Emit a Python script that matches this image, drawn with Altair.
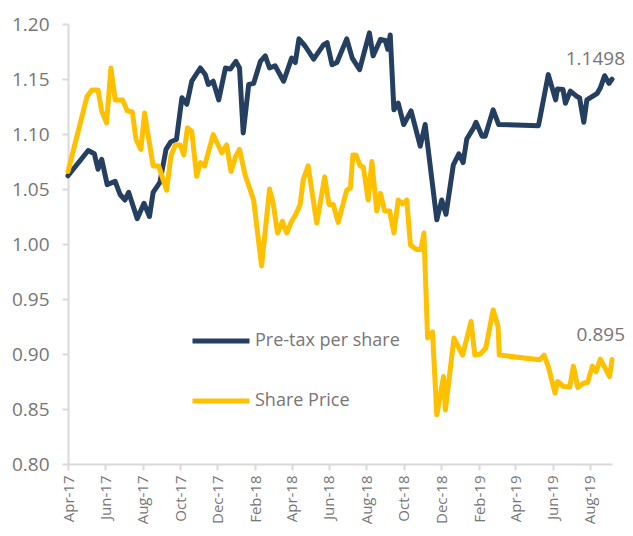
import altair as alt
import pandas as pd

# ---- data ----
pretax_dates = [
    "2017-04-01", "2017-05-04", "2017-05-14", "2017-05-20", "2017-05-26", "2017-06-04",
    "2017-06-17", "2017-06-25", "2017-07-03", "2017-07-09", "2017-07-23", "2017-08-03",
    "2017-08-12", "2017-08-18", "2017-08-29", "2017-09-08", "2017-09-16", "2017-09-25",
    "2017-10-04", "2017-10-12", "2017-10-20", "2017-11-03", "2017-11-11", "2017-11-16",
    "2017-11-24", "2017-12-03", "2017-12-14", "2017-12-22", "2017-12-31", "2018-01-06",
    "2018-01-12", "2018-01-21", "2018-01-29", "2018-02-09", "2018-02-17", "2018-02-24",
    "2018-03-05", "2018-03-19", "2018-04-01", "2018-04-07", "2018-04-13", "2018-04-23",
    "2018-05-07", "2018-05-23", "2018-05-29", "2018-06-06", "2018-06-14", "2018-06-30",
    "2018-07-09", "2018-07-21", "2018-08-06", "2018-08-12", "2018-08-24", "2018-09-01",
    "2018-09-05", "2018-09-09", "2018-09-15", "2018-09-22", "2018-10-01", "2018-10-13",
    "2018-10-28", "2018-11-05", "2018-11-24", "2018-12-02", "2018-12-09", "2018-12-21",
    "2018-12-30", "2019-01-06", "2019-01-12", "2019-01-23", "2019-01-27", "2019-02-06",
    "2019-02-11", "2019-02-24", "2019-03-05", "2019-05-09", "2019-05-25", "2019-06-06",
    "2019-06-09", "2019-06-18", "2019-06-22", "2019-06-30", "2019-07-11", "2019-07-15",
    "2019-07-22", "2019-07-27", "2019-08-13", "2019-08-18", "2019-08-25", "2019-09-01",
    "2019-09-06",
]
pretax_values = [
    1.062, 1.085, 1.082, 1.068, 1.077, 1.054,
    1.057, 1.045, 1.040, 1.047, 1.023, 1.037,
    1.025, 1.047, 1.056, 1.086, 1.093, 1.095,
    1.133, 1.127, 1.148, 1.160, 1.154, 1.145,
    1.148, 1.131, 1.160, 1.159, 1.166, 1.160,
    1.101, 1.145, 1.146, 1.166, 1.171, 1.160,
    1.162, 1.148, 1.169, 1.165, 1.1865, 1.180,
    1.168, 1.181, 1.183, 1.163, 1.165, 1.1865,
    1.169, 1.1586, 1.192, 1.171, 1.186, 1.185,
    1.177, 1.190, 1.122, 1.128, 1.1086, 1.121,
    1.089, 1.1086, 1.022, 1.040, 1.027, 1.072,
    1.082, 1.074, 1.0955, 1.1056, 1.1107, 1.098,
    1.098, 1.122, 1.1086, 1.1076, 1.154, 1.131,
    1.141, 1.1404, 1.128, 1.139, 1.134, 1.133,
    1.1107, 1.131, 1.137, 1.142, 1.153, 1.146,
    1.1498,
]

share_dates = [
    "2017-04-01", "2017-05-02", "2017-05-10", "2017-05-20", "2017-05-26", "2017-06-03",
    "2017-06-10", "2017-06-17", "2017-06-29", "2017-07-07", "2017-07-15", "2017-07-21",
    "2017-07-29", "2017-08-04", "2017-08-10", "2017-08-18", "2017-08-27", "2017-09-09",
    "2017-09-16", "2017-09-23", "2017-10-01", "2017-10-07", "2017-10-13", "2017-10-20",
    "2017-10-28", "2017-11-03", "2017-11-10", "2017-11-24", "2017-12-08", "2017-12-16",
    "2017-12-23", "2017-12-31", "2018-01-06", "2018-01-15", "2018-01-29", "2018-02-11",
    "2018-02-24", "2018-03-02", "2018-03-09", "2018-03-17", "2018-03-24", "2018-04-01",
    "2018-04-08", "2018-04-15", "2018-04-20", "2018-04-28", "2018-05-12", "2018-05-25",
    "2018-06-01", "2018-06-08", "2018-06-16", "2018-06-30", "2018-07-06", "2018-07-10",
    "2018-07-15", "2018-07-22", "2018-07-27", "2018-08-04", "2018-08-10", "2018-08-18",
    "2018-08-24", "2018-08-31", "2018-09-08", "2018-09-15", "2018-09-22", "2018-09-29",
    "2018-10-06", "2018-10-12", "2018-10-22", "2018-10-29", "2018-11-03", "2018-11-09",
    "2018-11-17", "2018-11-24", "2018-12-05", "2018-12-08", "2018-12-22", "2019-01-05",
    "2019-01-19", "2019-01-25", "2019-02-03", "2019-02-12", "2019-02-24", "2019-03-04",
    "2019-03-06", "2019-05-11", "2019-05-18", "2019-05-25", "2019-06-05", "2019-06-09",
    "2019-06-19", "2019-06-29", "2019-07-05", "2019-07-12", "2019-07-22", "2019-07-28",
    "2019-08-05", "2019-08-11", "2019-08-18", "2019-08-24", "2019-09-02", "2019-09-06",
]
share_values = [
    1.066, 1.134, 1.140, 1.140, 1.121, 1.110,
    1.160, 1.131, 1.131, 1.121, 1.120, 1.095,
    1.086, 1.119, 1.098, 1.071, 1.071, 1.049,
    1.080, 1.090, 1.090, 1.081, 1.1056, 1.1025,
    1.0615, 1.074, 1.071, 1.0995, 1.083, 1.090,
    1.066, 1.080, 1.086, 1.063, 1.040, 0.980,
    1.050, 1.037, 1.010, 1.0206, 1.010, 1.0206,
    1.027, 1.036, 1.0585, 1.071, 1.019, 1.061,
    1.036, 1.036, 1.0197, 1.049, 1.051, 1.081,
    1.081, 1.071, 1.070, 1.040, 1.075, 1.030,
    1.046, 1.030, 1.030, 1.010, 1.040, 1.0365,
    1.040, 0.999, 0.995, 0.995, 1.010, 0.9145,
    0.920, 0.8447, 0.8795, 0.849, 0.9145, 0.899,
    0.9296, 0.899, 0.900, 0.9055, 0.940, 0.925,
    0.899, 0.8947, 0.899, 0.8886, 0.8644, 0.875,
    0.8705, 0.870, 0.889, 0.8695, 0.8737, 0.874,
    0.889, 0.884, 0.8953, 0.889, 0.8795, 0.895,
]

series_names = ["Pre-tax per share", "Share Price"]
series_colors = ["#243F60", "#FFC000"]
end_labels = ["1.1498", "0.895"]

y_ticks = [0.80, 0.85, 0.90, 0.95, 1.00, 1.05, 1.10, 1.15, 1.20]
x_tick_months = [(2017, 4), (2017, 6), (2017, 8), (2017, 10), (2017, 12),
                 (2018, 2), (2018, 4), (2018, 6), (2018, 8), (2018, 10), (2018, 12),
                 (2019, 2), (2019, 4), (2019, 6), (2019, 8)]

# ---- tables ----
df = pd.concat([
    pd.DataFrame({"date": pretax_dates, "value": pretax_values, "series": series_names[0]}),
    pd.DataFrame({"date": share_dates, "value": share_values, "series": series_names[1]}),
])
df["date"] = df["date"] + "T00:00:00"

lab_pre = pd.DataFrame({"date": [pretax_dates[-1] + "T00:00:00"], "value": [pretax_values[-1]],
                        "label": [end_labels[0]]})
lab_sh = pd.DataFrame({"date": [share_dates[-1] + "T00:00:00"], "value": [share_values[-1]],
                       "label": [end_labels[1]]})

x_scale = alt.Scale(domain=[alt.DateTime(year=2017, month=4, date=1),
                            alt.DateTime(year=2019, month=9, date=6)], nice=False)
y_scale = alt.Scale(domain=[0.8, 1.2], nice=False, zero=False)

x_enc = alt.X("date:T", scale=x_scale,
              axis=alt.Axis(values=[alt.DateTime(year=y, month=m, date=1) for y, m in x_tick_months],
                            tickCount=40, format="%b-%y", labelAngle=270, title=None,
                            labelPadding=5, labelFontSize=15,
                            labelOverlap=False, labelBound=False, labelFlush=False))
y_enc = alt.Y("value:Q", scale=y_scale,
              axis=alt.Axis(values=y_ticks, tickCount=20, format=".2f", title=None,
                            labelPadding=13, labelFontSize=19))

lines = alt.Chart(df).mark_line(strokeWidth=5, strokeJoin="round", strokeCap="round").encode(
    x=x_enc,
    y=y_enc,
    color=alt.Color("series:N",
                    scale=alt.Scale(domain=series_names, range=series_colors),
                    legend=alt.Legend(title=None, orient="none", legendX=122, legendY=286,
                                      symbolType="stroke", symbolSize=3249,
                                      symbolStrokeWidth=5, rowPadding=19, labelOffset=3,
                                      labelFontSize=18, labelColor="#767676",
                                      labelFont="Open Sans")),
    order="date:T",
)

text_pre = alt.Chart(lab_pre).mark_text(align="right", baseline="middle", dx=13, dy=-20,
                                        fontSize=19, font="Open Sans", color="#767676").encode(
    x="date:T", y="value:Q", text="label:N")
text_sh = alt.Chart(lab_sh).mark_text(align="right", baseline="middle", dx=13, dy=-25,
                                      fontSize=19, font="Open Sans", color="#767676").encode(
    x="date:T", y="value:Q", text="label:N")

chart = alt.layer(lines, text_pre, text_sh).properties(
    width=544, height=440,
    autosize=alt.AutoSizeParams(type="none"),
    padding={"top": 16, "left": 60, "right": 13, "bottom": 63},
    background="white",
).configure_view(stroke=None).configure_axis(
    grid=False,
    domainColor="#d9d9d9", domainWidth=2,
    tickColor="#d9d9d9", tickWidth=2, tickSize=6,
    labelColor="#767676", labelFont="Open Sans",
)

chart.save("out.html", embed_options={"renderer": "svg", "actions": False})
